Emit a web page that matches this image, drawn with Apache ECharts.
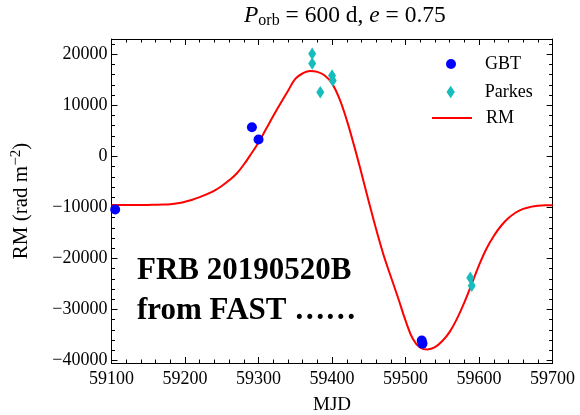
<!DOCTYPE html>
<html><head><meta charset="utf-8">
<script src="https://cdn.jsdelivr.net/npm/echarts@6/dist/echarts.min.js"></script>
<style>html,body{margin:0;padding:0;background:#fff}#c{width:580px;height:415px}</style>
</head><body><div id="c"></div>
<script>
// ---- data ----
const gbtMJD = [59105, 59291, 59300, 59522, 59523];
const gbtRM  = [-10400, 5700, 3300, -36100, -36700];

const parkesMJD = [59373, 59373, 59384, 59400, 59401, 59588, 59590];
const parkesRM  = [20100, 18200, 12550, 15850, 14850, -23800, -25350];

const rmMJD = [59100, 59110, 59120, 59130, 59140, 59150, 59160, 59170, 59180, 59190,
               59200, 59210, 59220, 59230, 59240, 59250, 59260, 59270, 59280, 59290,
               59300, 59310, 59320, 59330, 59340, 59350, 59360, 59370, 59380, 59390,
               59400, 59410, 59420, 59430, 59440, 59450, 59460, 59470, 59480, 59490,
               59500, 59510, 59520, 59530, 59540, 59550, 59560, 59570, 59580, 59590,
               59600, 59610, 59620, 59630, 59640, 59650, 59660, 59670, 59680, 59690, 59700];
const rmValues = [-9550, -9550, -9545, -9540, -9530, -9510, -9480, -9440, -9370, -9200,
                  -8900, -8500, -8000, -7400, -6700, -5800, -4700, -3400, -1600, 500,
                  2700, 5300, 7900, 10400, 12800, 15200, 16250, 16750, 16550, 15850,
                  14300, 11300, 7100, 2100, -3300, -8900, -14300, -19300, -23600, -27800,
                  -32200, -35800, -37500, -37850, -37400, -36200, -34400, -31800, -28600, -25000,
                  -21300, -18100, -15600, -13600, -12100, -11000, -10300, -9900, -9680, -9600, -9600];

const xTickLabels = [59100, 59200, 59300, 59400, 59500, 59600, 59700];
const yMajorTicks = [-40000, -30000, -20000, -10000, 0, 10000, 20000];
const yMinorTicks = [-40000, -38000, -36000, -34000, -32000, -30000, -28000, -26000, -24000, -22000,
                     -20000, -18000, -16000, -14000, -12000, -10000, -8000, -6000, -4000, -2000,
                     0, 2000, 4000, 6000, 8000, 10000, 12000, 14000, 16000, 18000, 20000, 22000];

const seriesNames = ['GBT', 'Parkes', 'RM'];
const titleParts = { period: '600 d', ecc: '0.75' };

// ---- layout ----
const FONT = 'Liberation Serif';
const G = { left: 111.5, right: 27.4, top: 39, bottom: 52 };
const W = 580, H = 415;
const plotW = W - G.left - G.right, plotH = H - G.top - G.bottom;

const chart = echarts.init(document.getElementById('c'), null, { renderer: 'canvas' });
const fmt = v => (v < 0 ? '\u2212' + Math.abs(v) : String(v));
const gbtData = gbtMJD.map((m, i) => [m, gbtRM[i]]);
const parkesData = parkesMJD.map((m, i) => [m, parkesRM[i]]);
const rmData = rmMJD.map((m, i) => [m, rmValues[i]]);

const BLACK = { color: '#000', width: 1 };
const xMin = xTickLabels[0], xMax = xTickLabels[xTickLabels.length - 1];
// frame/label axis (no ticks)
function xFrame(pos) {
  return {
    type: 'value', position: pos, min: xMin, max: xMax, interval: 100,
    axisLine: { show: true, onZero: false, lineStyle: BLACK },
    splitLine: { show: false }, axisTick: { show: false }, minorTick: { show: false },
    axisLabel: pos === 'bottom'
      ? { show: true, formatter: v => String(v), fontFamily: FONT, fontSize: 18, color: '#000', margin: 7 }
      : { show: false },
    name: pos === 'bottom' ? 'MJD' : '', nameLocation: 'middle', nameGap: 33,
    nameTextStyle: { fontFamily: FONT, fontSize: 19, color: '#000' }
  };
}
// tick-only axis: placed on the opposite edge so that its outward ticks point into the plot
function xTicks(pos) {
  return {
    type: 'value', position: pos, offset: -plotH, min: xMin, max: xMax, interval: 100,
    axisLine: { show: false, onZero: false }, splitLine: { show: false }, axisLabel: { show: false },
    axisTick: { show: true, inside: false, length: 6, lineStyle: BLACK },
    minorTick: { show: true, splitNumber: 5, length: 3.5, lineStyle: BLACK }
  };
}
const yMin = -40500, yMax = 23000;
function yFrame(pos) {
  const lab = pos === 'left';
  return {
    type: 'value', position: pos, min: yMin, max: yMax,
    axisLine: { show: true, onZero: false, lineStyle: BLACK },
    splitLine: { show: false }, axisTick: { show: false },
    axisLabel: lab ? { show: true, customValues: yMajorTicks, formatter: fmt, fontFamily: FONT, fontSize: 18, color: '#000', margin: 4 } : { show: false },
    name: lab ? '{a|RM (rad m}{s|\u22122}{a|)}' : '',
    nameLocation: 'middle', nameGap: 78,
    nameTextStyle: { rich: { a: { fontFamily: FONT, fontSize: 21, color: '#000' }, s: { fontFamily: FONT, fontSize: 15, color: '#000', padding: [0, 0, 10, 0] } } }
  };
}
function yTicks(pos, major) {
  return {
    type: 'value', position: pos, offset: -plotW, min: yMin, max: yMax,
    axisLine: { show: false, onZero: false }, splitLine: { show: false }, axisLabel: { show: false },
    axisTick: { show: true, inside: false, length: major ? 6 : 3.5, customValues: major ? yMajorTicks : yMinorTicks, lineStyle: BLACK }
  };
}

const option = {
  animation: false,
  backgroundColor: '#fff',
  title: {
    text: '{i|P}{s|orb}{n| = ' + titleParts.period + ', }{i|e}{n| = ' + titleParts.ecc + '}',
    left: 239, top: -2,
    textStyle: { fontWeight: 'normal', rich: {
      i: { fontFamily: FONT, fontSize: 23.5, fontStyle: 'italic', fontWeight: 'normal', color: '#000' },
      n: { fontFamily: FONT, fontSize: 23.5, fontWeight: 'normal', color: '#000' },
      s: { fontFamily: FONT, fontSize: 16, fontWeight: 'normal', color: '#000', padding: [10, 0, 0, 0] }
    } }
  },
  grid: { left: G.left, right: G.right, top: G.top, bottom: G.bottom, containLabel: false, outerBoundsMode: 'none' },
  xAxis: [ xFrame('bottom'), xFrame('top'), xTicks('top'), xTicks('bottom') ],
  yAxis: [ yFrame('left'), yFrame('right'),
           yTicks('right', true), yTicks('right', false), yTicks('left', true), yTicks('left', false) ],
  legend: [
    { data: [{ name: seriesNames[0], icon: 'circle' }], left: 446, top: 55, padding: 0, itemWidth: 58, itemHeight: 10,
      textStyle: { fontFamily: FONT, fontSize: 18, color: '#000' } },
    { data: [{ name: seriesNames[1], icon: 'path://M4,0L8,6L4,12L0,6Z' }], left: 446.5, top: 83, padding: 0, itemWidth: 58, itemHeight: 12.5,
      textStyle: { fontFamily: FONT, fontSize: 18, color: '#000' } },
    { data: [{ name: seriesNames[2] }], left: 431, top: 109, padding: 0, itemWidth: 40, itemHeight: 14,
      itemStyle: { color: 'rgba(0,0,0,0)', borderWidth: 0, opacity: 0 },
      textStyle: { fontFamily: FONT, fontSize: 18, color: '#000', padding: [0, 0, 0, 9] } }
  ],
  graphic: [{
    type: 'text', left: 137, top: 251, z: 100,
    style: { text: 'FRB 20190520B\nfrom FAST \u2026\u2026', font: 'bold 31px "Liberation Serif"', fill: '#000', lineHeight: 40 }
  }],
  series: [
    { name: seriesNames[2], type: 'line', data: rmData, symbol: 'none', smooth: 0.4, z: 2,
      lineStyle: { color: '#ff0000', width: 2 }, itemStyle: { color: '#ff0000' } },
    { name: seriesNames[0], type: 'scatter', data: gbtData, symbol: 'circle', symbolSize: 10, z: 3,
      itemStyle: { color: '#0000ff', opacity: 1 } },
    { name: seriesNames[1], type: 'scatter', data: parkesData, symbol: 'diamond', symbolSize: [8, 12.5], z: 4,
      itemStyle: { color: '#17bcbc', opacity: 1 } }
  ]
};
chart.setOption(option);
</script>
</body></html>
